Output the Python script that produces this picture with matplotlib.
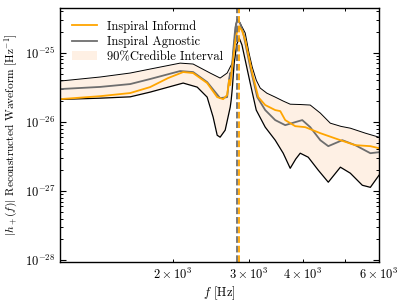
import numpy as np
import matplotlib
matplotlib.use("Agg")
import matplotlib.pyplot as plt
from matplotlib.patches import Patch

plt.rcParams["font.family"] = "serif"
plt.rcParams["font.serif"] = ["cmr10"]
plt.rcParams["mathtext.fontset"] = "cm"
plt.rcParams["axes.formatter.use_mathtext"] = True
plt.rcParams["axes.unicode_minus"] = False

# upper / lower edge of the 90% credible band
f_hi = [1096, 1357, 1593, 1771, 2079, 2228, 2440, 2573, 2671, 2744, 2775, 2800, 2818,
        2860, 2941, 3000, 3053, 3120, 3186, 3300, 3451, 3600, 3738, 3950, 4159, 4388, 4628, 4900,
        5149, 5579, 6000]
a_hi = [3.89e-26, 4.45e-26, 5.08e-26, 5.80e-26, 7.07e-26, 6.86e-26, 5.08e-26, 4.30e-26, 5.08e-26,
        7.07e-26, 1.5e-25, 2.6e-25, 3.05e-25, 2.7e-25, 1.93e-25, 1.0e-25,
        6.21e-26, 4.0e-26, 3.08e-26, 2.6e-26, 2.28e-26, 2.0e-26, 1.80e-26, 1.78e-26, 1.75e-26,
        1.34e-26, 9.57e-27, 8.6e-27, 8.10e-27, 6.86e-27, 6.00e-27]

f_lo = [1096, 1357, 1593, 1771, 2113, 2277, 2401, 2479, 2533, 2573, 2643, 2686, 2715, 2729, 2745,
        2773, 2810, 2848, 2890, 2941, 3020, 3119, 3272, 3451, 3601, 3738, 3850, 3943, 4115, 4341,
        4579, 4884, 5149, 5490, 5730, 6000]
a_lo = [2.11e-26, 2.20e-26, 2.30e-26, 2.69e-26, 3.64e-26, 3.18e-26, 2.28e-26, 1.17e-26, 6.4e-27,
        6.0e-27, 7.58e-27, 1.2e-26, 1.63e-26, 2.06e-26, 3.0e-26, 7.0e-26, 1.3e-25, 1.63e-25,
        1.3e-25, 7.84e-26, 3.64e-26, 1.48e-26, 8.38e-27, 5.43e-27, 3.52e-27, 2.13e-27, 2.9e-27,
        3.52e-27, 3.08e-27, 2.00e-27, 1.34e-27, 2.21e-27, 1.81e-27, 1.21e-27, 1.13e-27, 1.69e-27]

# median reconstructions
f_inf = [1096, 1357, 1593, 1771, 1950, 2113, 2228, 2401, 2533, 2615, 2671, 2700, 2715, 2750, 2790,
         2820, 2848, 2890, 2941, 3053, 3153, 3272, 3451, 3545, 3640, 3839, 4050, 4388, 4884, 5288,
         5730, 6000]
a_inf = [2.13e-26, 2.35e-26, 2.61e-26, 3.18e-26, 4.3e-26, 5.25e-26, 5.08e-26, 3.64e-26, 2.28e-26,
         2.13e-26, 2.44e-26, 4.02e-26, 3.4e-26, 7.0e-26, 1.5e-25, 2.1e-25, 2.38e-25, 2.1e-25,
         1.53e-25, 5.08e-26, 2.28e-26, 1.75e-26, 1.48e-26, 1.43e-26, 1.06e-26, 8.66e-27, 8.38e-27,
         6.86e-27, 5.43e-27, 4.60e-27, 4.45e-27, 4.16e-27]

f_agn = [1096, 1357, 1593, 1771, 2079, 2228, 2401, 2573, 2671, 2700, 2715, 2730, 2760, 2790, 2818,
         2860, 2910, 3020, 3136, 3272, 3451, 3640, 3839, 3986, 4159, 4388, 4579, 4935, 5288, 5730,
         6000]
a_agn = [2.98e-26, 3.2e-26, 3.52e-26, 4.16e-26, 5.43e-26, 5.25e-26, 3.76e-26, 2.20e-26, 2.28e-26,
         4.2e-26, 5.08e-26, 4.6e-26, 1.1e-25, 2.3e-25, 2.98e-25, 2.7e-25, 1.93e-25, 6.21e-26,
         2.28e-26, 1.48e-26, 1.06e-26, 8.96e-27, 9.9e-27, 1.06e-26, 8.38e-27, 5.43e-27, 4.45e-27,
         5.43e-27, 4.60e-27, 3.52e-27, 3.64e-27]

f_peak_agn = 2822
f_peak_inf = 2838

y_ticks = [1e-28, 1e-27, 1e-26, 1e-25]
x_ticks = [2000, 3000, 4000, 6000]
x_minor = [5000]

fig = plt.figure(figsize=(4.07, 3.02), dpi=100)
ax = fig.add_axes([0.1474, 0.1325, 0.7838, 0.8425])

f_band = np.union1d(f_hi, f_lo)
ax.fill_between(f_band, np.interp(f_band, f_lo, a_lo), np.interp(f_band, f_hi, a_hi),
                color="#fef0e4", lw=0)
ax.plot(f_hi, a_hi, color="black", lw=0.7)
ax.plot(f_lo, a_lo, color="black", lw=0.9)
ax.plot(f_agn, a_agn, color="#6e6e6e", lw=1.3)
ax.plot(f_inf, a_inf, color="orange", lw=1.3)
ax.axvline(f_peak_agn, color="#6e6e6e", ls="--", lw=1.3)
ax.axvline(f_peak_inf, color="orange", ls="--", lw=1.3)

ax.set_xscale("log")
ax.set_yscale("log")
ax.set_xlim(1096, 6000)
ax.set_ylim(9.4e-29, 4.5e-25)

ax.set_yticks(y_ticks)
ax.set_yticks([m * 10.0**e for e in range(-28, -24) for m in range(2, 10)
               if m * 10.0**e < 4.5e-25], minor=True)
ax.set_yticklabels([r"$10^{%d}$" % round(np.log10(t)) for t in y_ticks])
ax.yaxis.set_minor_formatter(plt.NullFormatter())
ax.set_xticks(x_ticks)
ax.set_xticklabels([r"$%d\times10^{3}$" % (t // 1000) for t in x_ticks])
ax.set_xticks(x_minor, minor=True)
ax.xaxis.set_minor_formatter(plt.NullFormatter())

ax.tick_params(which="both", direction="in", top=True, right=True, labelsize=9)
ax.tick_params(axis="y", which="major", length=4, width=0.8)
ax.tick_params(axis="x", which="both", length=2.3, width=0.7)
ax.tick_params(axis="y", which="minor", length=2.3, width=0.7)
for s in ax.spines.values():
    s.set_linewidth(1.0)

ax.set_xlabel(r"$f$ [Hz]", fontsize=9, labelpad=2)
ax.set_ylabel(r"$|h_+(f)|$ Reconstructed Waveform [Hz$^{-1}$]", fontsize=8.2, labelpad=3)

handles = [plt.Line2D([], [], color="orange", lw=1.3),
           plt.Line2D([], [], color="#6e6e6e", lw=1.3),
           Patch(facecolor="#fef0e4", edgecolor="none")]
ax.legend(handles, ["Inspiral Informd", "Inspiral Agnostic", "90%Credible Interval"],
          loc="upper left", frameon=False, fontsize=9, handlelength=2.0,
          handletextpad=0.8, borderaxespad=0.6, labelspacing=0.25)

fig.savefig("out.png", dpi=100)
